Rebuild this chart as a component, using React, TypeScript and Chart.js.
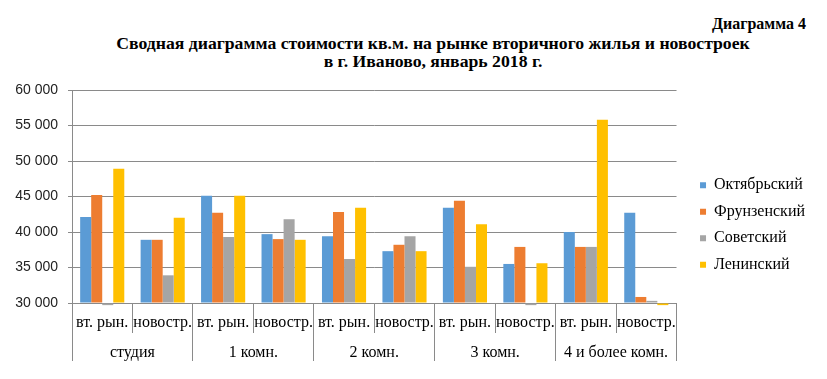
import React, { useEffect, useRef } from "react";
import { Chart, registerables } from "chart.js";

Chart.register(...registerables);

const categories = [
  "вт. рын.", "новостр.",
  "вт. рын.", "новостр.",
  "вт. рын.", "новостр.",
  "вт. рын.", "новостр.",
  "вт. рын.", "новостр.",
];
const groups = ["студия", "1 комн.", "2 комн.", "3 комн.", "4 и более комн."];

const seriesNames = ["Октябрьский", "Фрунзенский", "Советский", "Ленинский"];
const octyabrsky = [42100, 38900, 45100, 39700, 39400, 37300, 43400, 35500, 40000, 42700];
const frunzensky = [45200, 38900, 42700, 39000, 42800, 38200, 44400, 37900, 37900, 30850];
const sovetsky = [29700, 33900, 39300, 41800, 36200, 39400, 35100, 29700, 37900, 30300];
const leninsky = [48900, 42000, 45100, 38900, 43400, 37300, 41100, 35600, 55800, 29700];
const seriesColors = ["#5B9BD5", "#ED7D31", "#A5A5A5", "#FFC000"];

const yMin = 30000;
const yMax = 60000;
const yStep = 5000;

const SERIF = "'Liberation Serif', 'Times New Roman', serif";
const SANS = "'Liberation Sans', Arial, sans-serif";
const AXIS = "#8a8a8a";

function fmt(v: number): string {
  const s = String(Math.round(v));
  return s.replace(/\B(?=(\d{3})+(?!\d))/g, " ");
}

export default function App() {
  const ref = useRef<HTMLCanvasElement | null>(null);

  useEffect(() => {
    if (!ref.current) return;
    const values = [octyabrsky, frunzensky, sovetsky, leninsky];
    const chart = new Chart(ref.current, {
      type: "bar",
      data: {
        labels: categories,
        datasets: values.map((d, i) => ({
          label: seriesNames[i],
          data: d,
          base: yMin,
          backgroundColor: seriesColors[i],
          borderWidth: 0,
          barPercentage: 1,
          categoryPercentage: 0.73,
          clip: false as any,
          xAxisID: "x",
          yAxisID: "y",
        })),
      },
      options: {
        animation: false,
        responsive: false,
        maintainAspectRatio: false,
        layout: { padding: { top: 88, right: 12, bottom: 17, left: 0 } },
        plugins: {
          title: { display: false },
          tooltip: { enabled: false },
          legend: {
            position: "right",
            align: "center",
            labels: {
              boxWidth: 6,
              boxHeight: 6,
              padding: 10.5,
              color: "#000",
              font: { family: SERIF, size: 16 },
            },
          },
        },
        scales: {
          x: {
            type: "category",
            position: "bottom",
            offset: true,
            grid: {
              offset: true,
              drawOnChartArea: false,
              drawTicks: true,
              tickLength: 30,
              color: AXIS,
            },
            border: { display: true, color: AXIS },
            ticks: {
              color: "#000",
              font: { family: SERIF, size: 16 },
              padding: -20,
              maxRotation: 0,
              autoSkip: false,
            },
            afterFit: (s: any) => {
              s.height = 30;
            },
          },
          x2: {
            type: "category",
            position: "bottom",
            labels: groups,
            offset: true,
            grid: {
              offset: true,
              drawOnChartArea: false,
              drawTicks: true,
              tickLength: 28,
              color: AXIS,
            },
            border: { display: false },
            ticks: {
              color: "#000",
              font: { family: SERIF, size: 16 },
              padding: -18,
              maxRotation: 0,
              autoSkip: false,
            },
            afterFit: (s: any) => {
              s.height = 29;
            },
          },
          xTop: {
            type: "category",
            position: "top",
            labels: [""],
            display: true,
            grid: { display: false },
            ticks: { display: false },
            border: { display: false },
            afterFit: (s: any) => {
              s.height = 2;
            },
          },
          y: {
            type: "linear",
            position: "left",
            min: yMin,
            max: yMax,
            ticks: {
              stepSize: yStep,
              color: "#222",
              padding: 10,
              font: { family: SANS, size: 14 },
              callback: (v: any) => fmt(Number(v)),
            },
            grid: { color: AXIS, tickLength: 4 },
            border: { display: true, color: AXIS },
            afterFit: (s: any) => {
              s.width = 72;
            },
          },
          yRight: {
            type: "linear",
            position: "right",
            display: true,
            grid: { display: false },
            ticks: { display: false },
            border: { display: false },
            afterFit: (s: any) => {
              s.width = 13;
            },
          },
        },
      },
    });
    return () => chart.destroy();
  }, []);

  return (
    <div style={{ position: "absolute", left: 0, top: 0, width: 827, height: 379, background: "#fff" }}>
      <div
        style={{
          position: "absolute",
          right: 21,
          top: 14,
          fontFamily: SERIF,
          fontWeight: "bold",
          fontSize: 16,
          lineHeight: "20px",
          color: "#000",
          whiteSpace: "nowrap",
        }}
      >
        Диаграмма 4
      </div>
      <div
        style={{
          position: "absolute",
          left: 0,
          top: 34,
          width: 866,
          textAlign: "center",
          fontFamily: SERIF,
          fontWeight: "bold",
          fontSize: 17.7,
          lineHeight: "18px",
          color: "#000",
          whiteSpace: "nowrap",
        }}
      >
        <div>Сводная диаграмма стоимости кв.м. на рынке вторичного жилья и новостроек</div>
        <div>в г. Иваново, январь 2018 г.</div>
      </div>
      <canvas ref={ref} width={827} height={379} style={{ position: "absolute", left: 0, top: 0 }} />
    </div>
  );
}
